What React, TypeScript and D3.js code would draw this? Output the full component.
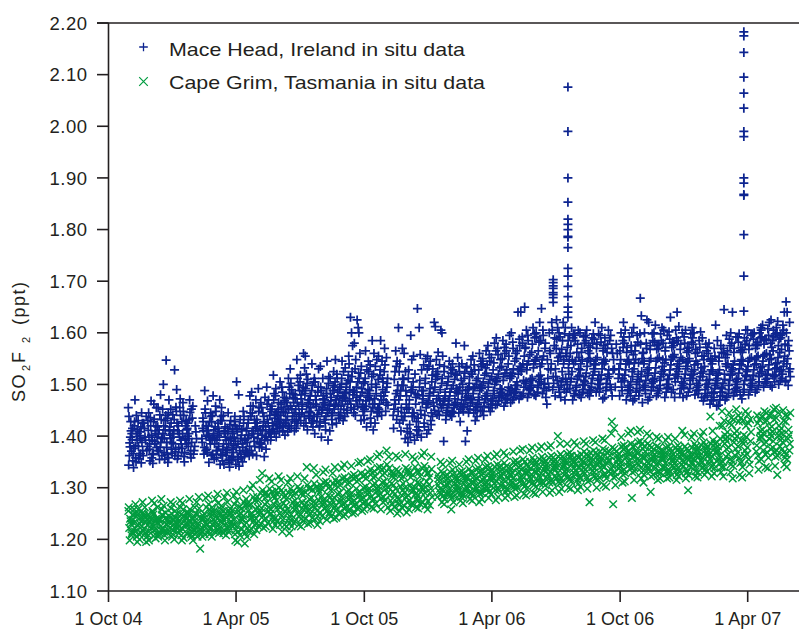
import React, { useEffect, useRef } from "react";
import * as d3 from "d3";

// SO2F2 mixing ratios, one row per week of in situ samples.
// Values are thousandths of a ppt above 1.000 (e.g. 385 -> 1.385 ppt).
const mhStart = "2004-10-29";
const mhWeeks: number[][] = [
  [455, 362, 398, 371, 415, 344, 387, 428, 405, 352, 438, 379, 410, 393],
  [470, 350, 392, 366, 420, 381, 440, 405, 339, 428, 358, 399, 412, 376],
  [445, 372, 356, 401, 418, 388, 430, 362, 395, 348, 425, 380, 408, 366],
  [380, 415, 438, 362, 398, 372, 425, 392],
  [352, 468, 392, 411, 375, 436, 402, 364, 445, 385, 420, 358, 430, 398],
  [378, 347, 462, 385, 420, 398, 366, 433, 410, 455, 372, 428, 390, 405],
  [405, 355, 480, 396, 418, 372, 441, 388, 362, 455, 412, 378, 432, 395],
  [412, 547, 365, 500, 395, 430, 378, 452, 420, 355, 440, 388, 405, 368],
  [388, 349, 470, 402, 425, 367, 445, 410, 396, 375, 435, 358, 418, 452],
  [398, 528, 375, 490, 441, 412, 362, 456, 425, 385, 432, 370, 448, 405],
  [472, 385, 356, 420, 398, 440, 368, 410, 378, 455, 392, 428, 362, 405],
  [412, 465, 360, 395, 430, 376, 448, 350, 420, 385, 405, 440, 368, 392],
  [395, 470, 372, 388, 425, 405, 446, 358, 415, 380, 432, 365, 452, 400],
  [458, 380, 395, 365, 420, 435, 372, 408],
  [],
  [410, 488, 372, 395, 435, 365, 452, 420, 388, 428, 378, 445, 400, 415],
  [385, 362, 468, 402, 428, 445, 375, 410, 349, 392, 438, 368, 420, 398],
  [395, 478, 355, 418, 372, 440, 405, 385, 458, 428, 365, 412, 392, 448],
  [380, 470, 365, 392, 425, 408, 345, 438, 372, 415, 398, 430, 358, 402],
  [398, 455, 352, 385, 410, 368, 430, 375, 345, 418, 392, 362, 440, 405],
  [372, 445, 348, 395, 362, 415, 385, 340, 430, 378, 408, 355, 422, 392],
  [382, 438, 345, 375, 360, 398, 420, 352, 405, 368, 428, 390, 358, 412],
  [395, 505, 355, 480, 372, 365, 415, 385, 342, 432, 378, 408, 360, 420],
  [385, 448, 360, 372, 402, 350, 425, 392, 368, 412, 378, 438, 395, 358],
  [402, 478, 372, 388, 425, 362, 445, 410, 395, 432, 380, 458, 415, 368],
  [415, 485, 365, 398, 380, 438, 405, 458, 390, 425, 372, 445, 410, 432],
  [425, 492, 378, 410, 362, 395, 448, 388, 470, 432, 405, 455, 385, 418],
  [438, 475, 385, 402, 420, 360, 398, 455, 412, 428, 392, 465, 378, 445],
  [418, 495, 392, 405, 440, 375, 462, 425, 408, 452, 398, 432, 470, 412],
  [425, 518, 405, 392, 448, 412, 470, 435, 398, 458, 420, 482, 442, 408],
  [432, 505, 398, 415, 452, 408, 478, 422, 440, 465, 418, 492, 445, 428],
  [440, 495, 410, 425, 402, 462, 418, 448, 475, 432, 455, 485, 420, 468],
  [438, 512, 415, 425, 465, 408, 452, 482, 430, 458, 420, 495, 445, 472],
  [445, 530, 420, 432, 475, 410, 458, 490, 438, 465, 428, 502, 452, 482],
  [452, 548, 425, 438, 480, 415, 465, 498, 442, 472, 432, 512, 458, 488],
  [462, 560, 532, 430, 445, 488, 420, 505, 472, 452, 495, 438, 518, 480],
  [448, 555, 520, 412, 470, 435, 492, 458, 510, 440, 482, 425, 502, 465],
  [455, 540, 418, 438, 478, 425, 498, 462, 512, 445, 488, 430, 505, 470],
  [442, 530, 405, 462, 428, 485, 450, 505, 470, 438, 495, 418, 478, 458],
  [432, 535, 398, 455, 478, 420, 495, 445, 512, 465, 428, 488, 452, 472],
  [438, 545, 392, 460, 425, 482, 450, 502, 470, 412, 492, 445, 515, 462],
  [445, 525, 410, 468, 432, 488, 458, 512, 475, 422, 498, 452, 482, 440],
  [452, 548, 425, 478, 440, 495, 462, 520, 485, 435, 505, 470, 512, 458],
  [458, 545, 430, 472, 445, 500, 468, 525, 490, 440, 512, 478, 452, 495],
  [462, 555, 438, 485, 450, 508, 475, 532, 495, 445, 518, 482, 468, 502],
  [472, 630, 600, 575, 445, 490, 462, 515, 480, 540, 505, 455, 525, 488],
  [468, 625, 610, 580, 440, 495, 458, 522, 485, 548, 475, 505, 452, 530],
  [462, 600, 560, 430, 485, 448, 512, 478, 535, 455, 502, 470, 522, 492],
  [452, 565, 418, 475, 440, 505, 468, 528, 490, 432, 512, 458, 482, 545],
  [448, 585, 412, 470, 435, 500, 462, 525, 488, 425, 515, 455, 478, 538],
  [455, 560, 425, 482, 445, 510, 472, 535, 495, 438, 520, 462, 500, 548],
  [462, 585, 440, 490, 452, 518, 478, 545, 505, 448, 528, 470, 512, 555],
  [470, 570, 448, 495, 460, 525, 485, 552, 512, 478, 538, 465, 502],
  [],
  [470, 565, 432, 498, 452, 525, 482, 545, 440, 510, 462, 535, 488, 415],
  [455, 570, 610, 425, 488, 438, 512, 470, 540, 410, 498, 448, 525, 478],
  [430, 560, 395, 462, 415, 498, 445, 525, 478, 408, 510, 438, 488, 452],
  [422, 595, 548, 388, 455, 405, 485, 438, 512, 470, 398, 495, 445, 528],
  [428, 647, 555, 392, 462, 412, 490, 445, 520, 475, 402, 505, 438, 482],
  [435, 610, 558, 398, 465, 418, 495, 450, 528, 480, 410, 508, 442, 488],
  [440, 550, 405, 472, 425, 502, 455, 530, 488, 418, 512, 462, 478, 538],
  [445, 555, 412, 478, 430, 505, 462, 535, 492, 422, 518, 468, 482, 545],
  [465, 620, 612, 548, 438, 485, 450, 510, 472, 530, 458, 495, 520, 442],
  [468, 605, 600, 562, 440, 490, 455, 515, 478, 538, 462, 502, 525, 448],
  [445, 555, 390, 472, 432, 498, 460, 525, 485, 440, 512, 468, 535, 478],
  [468, 545, 442, 492, 455, 515, 478, 532, 438, 505, 462, 485, 522, 450],
  [472, 580, 448, 498, 460, 520, 485, 540, 445, 510, 465, 492, 528, 455],
  [470, 552, 445, 495, 458, 518, 482, 535, 428, 508, 462, 488, 525, 452],
  [448, 575, 390, 475, 500, 462, 522, 488, 540, 455, 512, 470, 532, 482],
  [452, 548, 410, 478, 502, 465, 525, 490, 445, 515, 472, 535, 458, 495],
  [470, 555, 445, 495, 458, 520, 482, 538, 430, 508, 465, 492, 528, 450],
  [475, 560, 450, 500, 462, 528, 488, 545, 438, 512, 470, 495, 535, 455],
  [478, 565, 448, 505, 465, 532, 492, 550, 440, 518, 472, 498, 540, 458],
  [482, 575, 455, 510, 468, 538, 495, 558, 448, 522, 478, 502, 545, 462],
  [488, 580, 460, 515, 472, 542, 500, 565, 455, 528, 482, 508, 552, 468],
  [492, 590, 462, 520, 478, 548, 505, 570, 468, 532, 485, 512, 558, 475],
  [490, 585, 458, 522, 475, 550, 508, 572, 465, 535, 482, 515, 560, 472],
  [495, 595, 465, 528, 480, 555, 512, 578, 470, 540, 488, 518, 565, 478],
  [498, 600, 470, 530, 485, 560, 515, 582, 475, 545, 492, 522, 570, 482],
  [505, 640, 472, 535, 490, 565, 520, 588, 478, 550, 498, 528, 575, 485],
  [508, 650, 640, 478, 540, 495, 570, 525, 592, 482, 555, 502, 532, 580],
  [510, 605, 475, 545, 492, 572, 528, 595, 482, 558, 505, 538, 585, 490],
  [512, 610, 480, 548, 498, 578, 532, 598, 488, 562, 508, 540, 590, 495],
  [515, 620, 478, 552, 495, 582, 535, 600, 485, 565, 505, 545, 592, 498],
  [518, 647, 482, 555, 500, 585, 540, 605, 492, 570, 510, 548, 595, 502],
  [512, 600, 475, 548, 495, 580, 462, 530, 565, 488],
  [560, 620, 515, 590, 540, 490, 575, 528, 605, 502],
  [530, 625, 610, 495, 560, 515, 588, 545, 600, 478, 570, 508, 552, 485],
  [525, 620, 490, 555, 505, 585, 540, 598, 475, 568, 512, 548, 592, 498],
  [520, 470, 560, 500, 585, 545, 610, 485, 572, 532, 595, 510, 555, 492],
  [505, 610, 470, 540, 492, 575, 525, 590, 482, 560, 512, 548, 598, 478],
  [510, 605, 480, 545, 495, 578, 530, 595, 488, 562, 515, 552, 585, 498],
  [508, 600, 475, 548, 490, 580, 528, 562, 485, 592, 518, 540, 570, 500],
  [515, 605, 482, 550, 498, 585, 535, 565, 490, 595, 522, 545, 575, 505],
  [512, 598, 478, 545, 495, 580, 530, 560, 488, 590, 518, 540, 572, 502],
  [518, 620, 485, 552, 500, 588, 538, 570, 492, 598, 525, 548, 578, 508],
  [510, 610, 472, 548, 492, 582, 530, 565, 485, 595, 518, 542, 575, 500],
  [512, 605, 475, 545, 495, 578, 528, 590, 488, 562, 520, 540, 570, 502],
  [515, 595, 478, 548, 500, 570, 528, 585, 490, 560],
  [530, 560, 495, 512, 578],
  [512, 620, 478, 548, 495, 585, 530, 565, 600, 488, 572, 520, 540, 505],
  [508, 605, 470, 545, 490, 580, 528, 562, 482, 592, 518, 540, 572, 498],
  [505, 600, 468, 540, 488, 575, 525, 558, 592, 478, 565, 515, 548, 495],
  [510, 610, 472, 548, 492, 582, 530, 565, 485, 595, 520, 542, 575, 500],
  [505, 667, 633, 465, 542, 488, 578, 525, 560, 478, 598, 515, 550, 495],
  [508, 625, 470, 545, 490, 580, 528, 562, 600, 482, 570, 518, 540, 498],
  [510, 620, 475, 550, 495, 585, 532, 568, 488, 598, 522, 545, 575, 502],
  [512, 615, 478, 550, 495, 582, 532, 568, 488, 600, 522, 545, 575, 505],
  [515, 610, 482, 552, 498, 585, 535, 570, 492, 598, 525, 548, 578, 508],
  [510, 605, 475, 548, 492, 580, 528, 565, 485, 595, 520, 542, 572, 500],
  [518, 630, 485, 555, 500, 588, 538, 572, 495, 602, 528, 548, 580, 510],
  [520, 640, 490, 558, 505, 590, 540, 575, 475, 605, 530, 552, 582, 512],
  [515, 612, 482, 552, 498, 585, 535, 568, 492, 600, 525, 545, 578, 505],
  [512, 605, 478, 548, 495, 580, 530, 562, 475, 592, 520, 542, 570, 502],
  [518, 610, 485, 550, 500, 582, 535, 565, 492, 598, 525, 545, 572, 508],
  [512, 600, 480, 545, 495, 578, 528, 560, 488, 590, 520, 538, 568, 502],
  [508, 602, 475, 540, 490, 572, 522, 555, 482, 585, 515, 532, 562, 498],
  [500, 590, 468, 535, 482, 565, 515, 548, 475, 578, 508, 525, 555, 490],
  [495, 580, 462, 528, 478, 560, 510, 545, 470, 572, 502, 520, 550, 485],
  [492, 615, 458, 525, 475, 555, 508, 540, 468, 570, 498, 518, 548, 482],
  [495, 585, 460, 528, 478, 562, 512, 545, 470, 575, 502, 522, 552, 485],
  [502, 645, 470, 535, 485, 570, 520, 552, 595, 478, 560, 510, 540, 492],
  [508, 600, 475, 540, 490, 575, 525, 558, 482, 588, 518, 532, 565, 498],
  [510, 640, 478, 545, 492, 580, 528, 562, 485, 592, 520, 538, 570, 500],
  [512, 598, 480, 548, 495, 582, 530, 565, 488, 592, 522, 540, 572, 505],
  [508, 605, 472, 545, 490, 578, 528, 562, 485, 590, 518, 538, 568, 500],
  [515, 605, 480, 550, 498, 585, 535, 568, 490, 595, 525, 545, 575, 508],
  [518, 600, 485, 552, 502, 588, 538, 570, 495, 598, 528, 548, 578, 510],
  [522, 610, 490, 555, 505, 590, 540, 575, 498, 600, 532, 552, 582, 515],
  [525, 615, 495, 558, 510, 592, 545, 578, 502, 605, 535, 555, 585, 518],
  [528, 620, 498, 560, 512, 595, 548, 580, 505, 608, 538, 558, 588, 520],
  [530, 625, 495, 565, 515, 598, 550, 585, 605, 505, 540, 572, 518, 592],
  [532, 622, 500, 562, 518, 600, 552, 588, 508, 610, 542, 575, 525, 595],
  [535, 640, 505, 568, 520, 605, 555, 590, 512, 615, 545, 578, 528, 598],
  [530, 660, 640, 498, 565, 515, 600, 550, 585, 620, 508, 540, 575, 525],
];

// Pollution events at Mace Head, all samples on the same day
const mhSpikes = [
  { date: "2006-06-27", values: [703, 697, 691, 686, 678, 674, 668, 659] },
  {
    date: "2006-07-18",
    values: [1076, 990, 900, 853, 820, 810, 800, 787, 785, 765, 725, 710, 690, 670, 650, 640, 630],
  },
  {
    date: "2007-03-26",
    values: [1183, 1175, 1143, 1095, 1064, 1035, 990, 980, 900, 890, 868, 866, 790, 710, 642],
  },
];

const cgStart = "2004-10-29";
const cgWeeks: number[][] = [
  [255, 198, 230, 215, 262, 240, 208, 248, 222, 235, 212],
  [268, 205, 238, 222, 250, 195, 232, 215, 245, 228, 258],
  [272, 210, 242, 225, 258, 200, 235, 218, 250, 230, 212],
  [262, 195, 228, 245, 212, 238, 252, 220, 235, 205, 248],
  [275, 208, 235, 222, 255, 198, 242, 228, 248, 215, 238],
  [270, 202, 232, 248, 218, 240, 262, 225, 210, 236, 252],
  [278, 210, 240, 225, 258, 205, 236, 218, 248, 230, 212],
  [265, 198, 230, 245, 215, 252, 238, 222, 208, 242, 228],
  [272, 205, 238, 222, 260, 212, 245, 230, 250, 218, 235],
  [268, 200, 232, 250, 218, 242, 226, 210, 238, 255, 222],
  [275, 208, 240, 225, 262, 198, 235, 218, 248, 230, 212],
  [270, 203, 236, 252, 220, 244, 230, 212, 258, 226, 240],
  [278, 210, 242, 228, 258, 215, 248, 222, 235, 205, 252],
  [272, 198, 235, 250, 222, 240, 262, 212, 228, 245, 218],
  [282, 182, 238, 225, 260, 212, 248, 230, 218, 242, 205],
  [280, 205, 240, 225, 262, 215, 250, 232, 222, 245, 210],
  [285, 210, 245, 230, 268, 220, 255, 238, 215, 250, 228],
  [278, 205, 238, 250, 222, 262, 232, 215, 245, 228, 255],
  [288, 212, 248, 232, 270, 222, 258, 240, 218, 252, 235],
  [282, 208, 242, 255, 228, 265, 238, 218, 250, 232, 212],
  [290, 215, 250, 235, 272, 225, 260, 242, 220, 255, 230],
  [285, 198, 245, 230, 268, 218, 256, 238, 210, 250, 225],
  [292, 195, 248, 235, 275, 215, 262, 240, 225, 255, 208],
  [295, 192, 250, 238, 272, 212, 260, 245, 228, 265, 220],
  [298, 205, 255, 240, 278, 222, 265, 248, 232, 270, 215],
  [305, 210, 258, 242, 282, 228, 268, 250, 235, 275, 220],
  [315, 218, 262, 248, 290, 232, 275, 255, 240, 282, 225],
  [328, 222, 268, 252, 295, 238, 280, 260, 245, 288, 230],
  [318, 225, 272, 255, 298, 240, 285, 262, 248, 290, 232],
  [312, 220, 268, 250, 292, 235, 280, 258, 242, 285, 228],
  [322, 228, 275, 258, 300, 242, 288, 265, 250, 295, 235],
  [315, 215, 270, 255, 295, 238, 282, 262, 245, 290, 228],
  [310, 212, 265, 250, 290, 232, 278, 258, 240, 285, 225],
  [318, 225, 272, 258, 298, 240, 285, 265, 248, 292, 232],
  [322, 228, 275, 260, 302, 245, 290, 268, 252, 295, 238],
  [318, 225, 272, 258, 298, 240, 285, 265, 248, 290, 235],
  [340, 230, 278, 262, 305, 248, 292, 270, 255, 298, 240],
  [338, 232, 280, 265, 308, 250, 295, 272, 258, 300, 242],
  [325, 228, 276, 262, 302, 245, 290, 268, 255, 296, 238],
  [330, 235, 282, 268, 310, 252, 298, 275, 260, 305, 245],
  [335, 238, 285, 270, 312, 255, 300, 278, 262, 308, 248],
  [328, 240, 282, 268, 308, 252, 295, 275, 260, 302, 245],
  [340, 242, 288, 272, 315, 258, 302, 280, 265, 310, 250],
  [338, 245, 290, 275, 318, 260, 305, 282, 268, 312, 252],
  [345, 248, 292, 278, 320, 262, 308, 285, 270, 315, 255],
  [342, 250, 295, 280, 322, 265, 310, 288, 272, 318, 258],
  [348, 252, 298, 282, 325, 268, 312, 290, 275, 320, 260],
  [350, 255, 300, 285, 328, 270, 315, 292, 278, 322, 262],
  [352, 258, 302, 288, 330, 272, 318, 295, 280, 325, 265],
  [355, 262, 305, 290, 335, 275, 320, 298, 282, 328, 268],
  [360, 260, 308, 292, 338, 278, 322, 300, 285, 332, 270],
  [365, 258, 310, 295, 340, 280, 325, 302, 288, 335, 272],
  [372, 262, 312, 298, 345, 282, 328, 305, 290, 338, 275],
  [360, 255, 308, 292, 338, 275, 322, 300, 285, 330, 268],
  [362, 250, 305, 288, 335, 270, 320, 298, 280, 328, 262],
  [358, 255, 302, 285, 332, 268, 318, 295, 278, 325, 262],
  [365, 252, 308, 290, 338, 272, 322, 300, 282, 330, 265],
  [360, 258, 305, 292, 335, 275, 320, 298, 285, 328, 268],
  [355, 262, 310, 295, 340, 278, 325, 302, 288, 332, 270],
  [362, 260, 308, 292, 338, 276, 322, 300, 285, 330, 268],
  [368, 265, 312, 298, 342, 280, 328, 305, 290, 335, 272],
  [360, 258, 306, 290, 336, 274, 320, 298, 282, 328, 266],
  [],
  [350, 272, 305, 292, 332, 282, 318, 298, 288, 325, 312],
  [345, 268, 302, 288, 328, 278, 315, 295, 285, 322, 308],
  [348, 258, 305, 290, 330, 280, 318, 298, 285, 325, 310],
  [352, 272, 308, 295, 335, 284, 320, 300, 290, 328, 315],
  [345, 275, 305, 292, 330, 282, 318, 298, 288, 325, 312],
  [350, 270, 308, 295, 332, 285, 320, 302, 290, 328, 315],
  [355, 278, 310, 298, 336, 288, 322, 305, 292, 330, 318],
  [352, 275, 310, 295, 335, 285, 322, 302, 290, 330, 316],
  [358, 272, 312, 298, 338, 288, 325, 305, 292, 332, 318],
  [355, 278, 315, 300, 340, 290, 328, 308, 295, 335, 320],
  [362, 280, 318, 302, 342, 292, 330, 310, 298, 338, 322],
  [360, 276, 315, 300, 340, 288, 328, 308, 295, 335, 320],
  [365, 282, 320, 305, 345, 295, 332, 312, 300, 340, 325],
  [368, 280, 322, 308, 348, 292, 335, 315, 300, 342, 328],
  [362, 285, 318, 305, 342, 295, 330, 312, 298, 338, 325],
  [370, 282, 325, 310, 350, 298, 338, 318, 302, 345, 330],
  [372, 285, 328, 312, 352, 300, 340, 320, 305, 348, 332],
  [375, 288, 330, 315, 355, 302, 342, 322, 308, 350, 335],
  [372, 285, 328, 312, 350, 298, 340, 320, 305, 345, 332],
  [378, 290, 332, 318, 358, 305, 345, 325, 310, 352, 338],
  [375, 288, 330, 315, 355, 302, 342, 322, 308, 350, 335],
  [380, 292, 335, 320, 360, 308, 348, 328, 312, 355, 340],
  [378, 290, 332, 318, 358, 305, 345, 325, 310, 352, 338],
  [382, 295, 338, 322, 362, 310, 350, 330, 315, 358, 342],
  [400, 292, 335, 320, 360, 308, 348, 328, 312, 355, 340],
  [385, 298, 340, 325, 365, 312, 352, 332, 318, 360, 345],
  [385, 300, 342, 328, 365, 315, 352, 335, 320, 360, 348],
  [388, 298, 345, 330, 368, 312, 355, 338, 318, 362, 350],
  [382, 295, 340, 325, 362, 308, 350, 332, 315, 358, 345],
  [390, 302, 345, 330, 370, 318, 355, 338, 322, 365, 350],
  [385, 298, 342, 328, 365, 312, 352, 335, 318, 360, 348],
  [392, 272, 348, 332, 372, 315, 358, 340, 322, 368, 352],
  [388, 300, 345, 330, 368, 314, 355, 338, 320, 362, 350],
  [395, 305, 350, 335, 375, 320, 360, 342, 325, 370, 355],
  [392, 302, 348, 332, 372, 318, 358, 340, 325, 368, 352],
  [428, 268, 352, 335, 378, 320, 362, 405, 342, 370, 328],
  [415, 305, 350, 338, 375, 322, 362, 345, 330, 370, 355],
  [398, 310, 355, 340, 380, 325, 365, 348, 332, 375, 358],
  [405, 312, 358, 342, 382, 328, 368, 350, 335, 378, 362],
  [410, 280, 360, 345, 385, 330, 370, 352, 338, 380, 365],
  [408, 315, 362, 348, 388, 332, 372, 355, 340, 382, 368],
  [412, 318, 360, 345, 390, 330, 375, 352, 338, 385, 368],
  [405, 310, 358, 342, 385, 325, 370, 350, 335, 380, 362],
  [400, 292, 355, 340, 382, 322, 368, 348, 332, 378, 360],
  [398, 315, 352, 338, 380, 325, 365, 345, 330, 375, 358],
  [395, 318, 355, 340, 378, 328, 365, 348, 332, 372, 360],
  [392, 318, 355, 340, 378, 328, 365, 348, 332, 372, 360],
  [398, 320, 358, 342, 380, 330, 368, 350, 335, 375, 362],
  [395, 315, 355, 340, 378, 325, 365, 348, 332, 372, 358],
  [410, 322, 360, 345, 382, 332, 370, 352, 338, 378, 365],
  [402, 318, 358, 342, 380, 328, 368, 350, 335, 375, 362],
  [398, 295, 355, 340, 378, 325, 365, 348, 332, 372, 358],
  [405, 322, 362, 348, 385, 332, 372, 355, 340, 380, 365],
  [400, 320, 360, 345, 382, 330, 370, 352, 338, 378, 362],
  [408, 325, 365, 350, 388, 335, 375, 358, 342, 382, 368],
  [438, 322, 362, 348, 385, 332, 372, 355, 340, 380, 365],
  [410, 328, 368, 352, 392, 338, 378, 360, 345, 385, 370],
  [420, 330, 370, 355, 395, 340, 380, 362, 348, 388, 372],
  [448, 322, 385, 360, 420, 340, 402, 375, 350, 430, 395],
  [445, 330, 390, 365, 425, 345, 408, 378, 355, 435, 398],
  [452, 318, 388, 362, 422, 342, 405, 375, 352, 432, 395],
  [440, 325, 392, 368, 428, 348, 410, 380, 358, 435, 400],
  [448, 320, 385, 362, 420, 340, 402, 372, 350, 430, 392],
  [442, 328, 390, 365, 425, 345, 408, 378, 355, 432, 398],
  [],
  [440, 335, 395, 370, 425, 352, 410, 382, 362, 432, 400],
  [448, 340, 398, 372, 428, 355, 412, 385, 365, 438, 405],
  [445, 338, 395, 375, 430, 358, 415, 388, 368, 440, 405],
  [452, 342, 400, 378, 432, 360, 418, 390, 370, 442, 408],
  [455, 325, 402, 380, 435, 362, 420, 392, 372, 445, 410],
  [450, 345, 398, 375, 430, 358, 415, 388, 368, 440, 405],
  [445, 340, 395, 372, 428, 355, 412, 385, 365, 438, 402],
];

const yTicks = [1.1, 1.2, 1.3, 1.4, 1.5, 1.6, 1.7, 1.8, 1.9, 2.0, 2.1, 2.2];
const xTickDates = ["2004-10-01", "2005-04-01", "2005-10-01", "2006-04-01", "2006-10-01", "2007-04-01"];
const seriesNames = ["Mace Head, Ireland in situ data", "Cape Grim, Tasmania in situ data"];
const legendWidths = [296, 316];

const BLUE = "#0d2490";
const GREEN = "#009c3f";

type Pt = { date: Date; value: number };

const DAY = 86400000;

function weeksToPoints(start: string, weeks: number[][]): Pt[] {
  const t0 = new Date(start + "T00:00:00Z").getTime();
  const pts: Pt[] = [];
  weeks.forEach((vals, w) => {
    const n = vals.length;
    vals.forEach((v, i) => {
      // spread the week's samples over its seven days (interleaved slot order)
      const slot = (i * 3 + w * 5) % n;
      const t = t0 + (w * 7 + ((slot + 0.5) * 7) / n) * DAY;
      pts.push({ date: new Date(t), value: 1 + v / 1000 });
    });
  });
  return pts;
}

const App: React.FC = () => {
  const svgRef = useRef<SVGSVGElement | null>(null);

  useEffect(() => {
    const width = 799;
    const height = 629;
    const left = 108.5;
    const top = 23;
    const bottom = 591;
    const font = "'Liberation Sans', Arial, Helvetica, sans-serif";
    const ink = "#231f20";

    const xScale = d3
      .scaleUtc()
      .domain([new Date("2004-10-01T00:00:00Z"), new Date("2007-04-01T00:00:00Z")])
      .range([left, 747.7]);
    const yScale = d3.scaleLinear().domain([1.1, 2.2]).range([bottom, top]);

    const svg = d3.select(svgRef.current).attr("width", width).attr("height", height);
    svg.selectAll("*").remove();

    const mhPts = weeksToPoints(mhStart, mhWeeks);
    mhSpikes.forEach((s) =>
      s.values.forEach((v) => mhPts.push({ date: new Date(s.date + "T12:00:00Z"), value: 1 + v / 1000 }))
    );
    const cgPts = weeksToPoints(cgStart, cgWeeks);

    const plus = (x: number, y: number, r: number) => `M${x - r},${y}h${2 * r}M${x},${y - r}v${2 * r}`;
    const times = (x: number, y: number, r: number) =>
      `M${x - r},${y - r}L${x + r},${y + r}M${x - r},${y + r}L${x + r},${y - r}`;

    // Cape Grim points
    svg
      .append("g")
      .selectAll("path")
      .data(cgPts)
      .enter()
      .append("path")
      .attr("d", (d) => times(xScale(d.date), yScale(d.value), 3.8))
      .attr("stroke", GREEN)
      .attr("stroke-width", 1.45)
      .attr("fill", "none");

    // Mace Head points
    svg
      .append("g")
      .selectAll("path")
      .data(mhPts)
      .enter()
      .append("path")
      .attr("d", (d) => plus(xScale(d.date), yScale(d.value), 4.5))
      .attr("stroke", BLUE)
      .attr("stroke-width", 1.75)
      .attr("fill", "none");

    // Axes frame
    const axis = svg.append("g").attr("stroke", ink).attr("stroke-width", 1.6).attr("fill", "none");
    axis.append("path").attr("d", `M${left},${top}V${bottom}`);
    axis.append("path").attr("d", `M${left - 11.5},${top}H${width}`);
    axis.append("path").attr("d", `M${left},${bottom}H${width}`);

    // Y ticks
    yTicks.forEach((t) => {
      axis.append("path").attr("d", `M${left - 11.5},${yScale(t)}H${left}`);
    });
    svg
      .append("g")
      .selectAll("text")
      .data(yTicks)
      .enter()
      .append("text")
      .attr("x", 87.5)
      .attr("y", (d) => yScale(d))
      .attr("dy", "0.36em")
      .attr("text-anchor", "end")
      .style("font-family", font)
      .style("font-size", "18.5px")
      .style("letter-spacing", "0.5px")
      .style("fill", ink)
      .text((d) => d3.format(".2f")(d));

    // X ticks
    const fmt = d3.utcFormat("%-d %b %y");
    const xTicks = xTickDates.map((s) => new Date(s + "T00:00:00Z"));
    xTicks.forEach((t) => {
      axis.append("path").attr("d", `M${xScale(t)},${bottom}V${bottom + 11}`);
    });
    svg
      .append("g")
      .selectAll("text")
      .data(xTicks)
      .enter()
      .append("text")
      .attr("x", (d) => xScale(d))
      .attr("y", 625)
      .attr("text-anchor", "middle")
      .style("font-family", font)
      .style("font-size", "18px")
      .style("fill", ink)
      .text((d) => fmt(d));

    // Y axis title (rotated frame: x runs upward from y = 402)
    const yt = svg
      .append("text")
      .attr("transform", "translate(25,402) rotate(-90)")
      .style("font-family", font)
      .style("font-size", "18px")
      .style("letter-spacing", "1.5px")
      .style("fill", ink);
    yt.append("tspan").attr("x", 0).attr("y", 0).text("SO");
    yt.append("tspan").attr("x", 31).attr("y", 5).style("font-size", "11px").style("letter-spacing", "0").text("2");
    yt.append("tspan").attr("x", 39).attr("y", 0).text("F");
    yt.append("tspan").attr("x", 59).attr("y", 5).style("font-size", "11px").style("letter-spacing", "0").text("2");
    yt.append("tspan").attr("x", 77).attr("y", 0).text("(ppt)");

    // Legend
    const lg = svg.append("g");
    lg.append("path").attr("d", plus(143.5, 47, 4.3)).attr("stroke", BLUE).attr("stroke-width", 1.3);
    lg.append("path").attr("d", times(143.5, 81.5, 4.3)).attr("stroke", GREEN).attr("stroke-width", 1.2);
    lg.selectAll("text")
      .data(seriesNames)
      .enter()
      .append("text")
      .attr("x", 169)
      .attr("y", (_, i) => 55.5 + i * 33)
      .attr("textLength", (_, i) => legendWidths[i])
      .attr("lengthAdjust", "spacingAndGlyphs")
      .style("font-family", font)
      .style("font-size", "18.5px")
      .style("fill", ink)
      .text((d) => d);
  }, []);

  return <svg ref={svgRef} style={{ position: "absolute", left: 0, top: 0, display: "block" }}></svg>;
};

export default App;
